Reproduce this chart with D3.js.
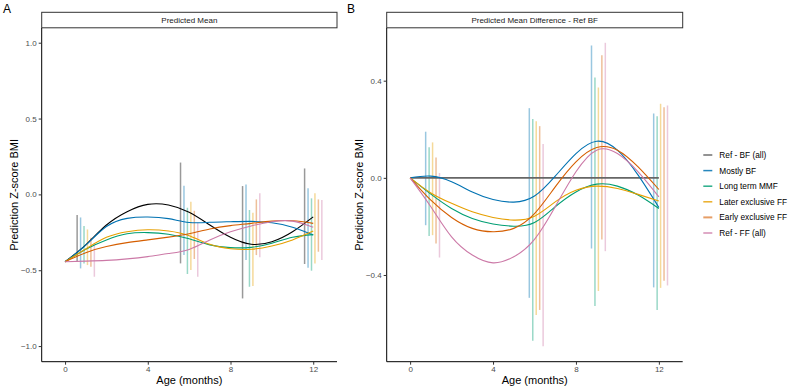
<!DOCTYPE html>
<html>
<head>
<meta charset="utf-8">
<script src="https://cdn.jsdelivr.net/npm/d3@7"></script>
<style>
body { margin: 0; background: white; }
text { font-family: "Liberation Sans", Arial, sans-serif; }
</style>
</head>
<body>
<svg width="789" height="388"></svg>
<script>
// Data
var groups = ["Ref - BF (all)", "Mostly BF", "Long term MMF", "Later exclusive FF", "Early exclusive FF", "Ref - FF (all)"];
var colors = ["#000000", "#0072B2", "#009E73", "#E69F00", "#D55E00", "#CC79A7"];
var ages = [0, 1, 2, 3, 4, 5, 6, 7, 8, 9, 10, 11, 12];
var visits = [1, 6, 9, 12];

// Panel A: predicted mean curves
var meanRefBF   = [-0.444, -0.333, -0.202, -0.114, -0.066, -0.070, -0.118, -0.202, -0.283, -0.329, -0.312, -0.246, -0.148];
var meanMostBF  = [-0.444, -0.335, -0.212, -0.158, -0.149, -0.160, -0.185, -0.184, -0.180, -0.178, -0.187, -0.217, -0.268];
var meanLtMMF   = [-0.444, -0.362, -0.300, -0.260, -0.252, -0.263, -0.293, -0.333, -0.351, -0.349, -0.322, -0.283, -0.265];
var meanLaterFF = [-0.444, -0.360, -0.283, -0.246, -0.233, -0.241, -0.272, -0.329, -0.358, -0.362, -0.340, -0.300, -0.242];
var meanEarlyFF = [-0.444, -0.384, -0.344, -0.318, -0.300, -0.282, -0.260, -0.228, -0.206, -0.191, -0.176, -0.174, -0.191];
var meanRefFF   = [-0.444, -0.440, -0.435, -0.425, -0.410, -0.390, -0.363, -0.300, -0.246, -0.208, -0.180, -0.176, -0.217];
var meanLines = [meanRefBF, meanMostBF, meanLtMMF, meanLaterFF, meanEarlyFF, meanRefFF];

// Panel A: intervals at visits
var meanLo = [
  [-0.444, -0.455, -0.686, -0.459],
  [-0.488, -0.400, -0.433, -0.484],
  [-0.455, -0.525, -0.609, -0.503],
  [-0.466, -0.499, -0.604, -0.455],
  [-0.477, -0.426, -0.400, -0.378],
  [-0.543, -0.543, -0.415, -0.433]
];
var meanHi = [
  [-0.136, 0.210, 0.055, 0.171],
  [-0.152, 0.057, 0.066, 0.040],
  [-0.209, -0.088, -0.103, -0.026],
  [-0.231, -0.048, -0.121, 0.007],
  [-0.286, -0.108, -0.033, -0.033],
  [-0.319, -0.187, 0.007, -0.037]
];

// Panel B: difference from Ref BF
var diffRefBF   = [0, 0, 0, 0, 0, 0, 0, 0, 0, 0, 0, 0, 0];
var diffMostBF  = [0, 0.007, -0.016, -0.058, -0.089, -0.100, -0.075, 0.007, 0.100, 0.151, 0.114, 0.011, -0.122];
var diffLtMMF   = [0, -0.067, -0.126, -0.167, -0.190, -0.199, -0.184, -0.119, -0.058, -0.026, -0.034, -0.071, -0.126];
var diffLaterFF = [0, -0.062, -0.105, -0.140, -0.163, -0.174, -0.158, -0.099, -0.051, -0.034, -0.044, -0.068, -0.095];
var diffEarlyFF = [0, -0.092, -0.163, -0.208, -0.222, -0.208, -0.147, -0.037, 0.066, 0.125, 0.114, 0.045, -0.048];
var diffRefFF   = [0, -0.119, -0.243, -0.318, -0.350, -0.325, -0.253, -0.119, 0.025, 0.114, 0.100, 0.025, -0.078];
var diffLines = [diffRefBF, diffMostBF, diffLtMMF, diffLaterFF, diffEarlyFF, diffRefFF];

var diffLo = [
  null,
  [-0.195, -0.494, -0.291, -0.451],
  [-0.239, -0.671, -0.528, -0.544],
  [-0.236, -0.565, -0.466, -0.453],
  [-0.270, -0.544, -0.254, -0.424],
  [-0.328, -0.693, -0.302, -0.443]
];
var diffHi = [
  null,
  [0.190, 0.287, 0.545, 0.265],
  [0.126, 0.242, 0.413, 0.254],
  [0.146, 0.233, 0.372, 0.305],
  [0.084, 0.213, 0.505, 0.291],
  [0.020, 0.139, 0.556, 0.298]
];

var svg = d3.select("svg");
var plotTop = 28, plotBottom = 361.7;

function drawPanel(opt) {
  var x = d3.scaleLinear().domain([-1.13, 13.15]).range([opt.left, opt.right]);
  var y = d3.scaleLinear().domain(opt.ydomain).range([plotBottom, plotTop]);
  var g = svg.append("g");

  // strip
  g.append("rect")
    .attr("x", opt.left).attr("y", 12.3)
    .attr("width", opt.right - opt.left).attr("height", 15.5)
    .attr("fill", "white").attr("stroke", "#333").attr("stroke-width", 1);
  g.append("text")
    .attr("x", (opt.left + opt.right) / 2).attr("y", 23)
    .attr("text-anchor", "middle").attr("font-size", 8).attr("fill", "#1a1a1a")
    .text(opt.title);

  // panel letter
  svg.append("text").attr("x", opt.letterX).attr("y", 13)
    .attr("font-size", 12).attr("fill", "black").text(opt.letter);

  // error bars
  for (var s = 0; s < groups.length; s++) {
    if (!opt.lo[s]) continue;
    visits.forEach(function(v, j) {
      var xx = x(v + (s - 2.5) / 6);
      g.append("line")
        .attr("x1", xx).attr("x2", xx)
        .attr("y1", y(opt.lo[s][j])).attr("y2", y(opt.hi[s][j]))
        .attr("stroke", colors[s])
        .attr("stroke-opacity", 0.4)
        .attr("stroke-width", 1.5);
    });
  }

  // lines
  var line = d3.line()
    .x(function(d, i) { return x(ages[i]); })
    .y(function(d) { return y(d); })
    .curve(d3.curveNatural);
  for (var s = 0; s < groups.length; s++) {
    g.append("path")
      .attr("d", line(opt.lines[s]))
      .attr("fill", "none")
      .attr("stroke", opt.flatRef && s == 0 ? "#666" : colors[s])
      .attr("stroke-width", opt.flatRef && s == 0 ? 1.6 : 1.1);
  }

  // axes
  var ax = g.append("g")
    .attr("transform", "translate(0," + plotBottom + ")")
    .call(d3.axisBottom(x).tickValues([0, 4, 8, 12]).tickSize(3).tickPadding(2).tickFormat(d3.format("d")));
  var ay = g.append("g")
    .attr("transform", "translate(" + opt.left + ",0)")
    .call(d3.axisLeft(y).tickValues(opt.yticks).tickSize(3).tickPadding(2).tickFormat(d3.format(".1f")));
  [ax, ay].forEach(function(a) {
    a.select(".domain").attr("stroke", "black").attr("stroke-width", 1);
    a.selectAll(".tick line").attr("stroke", "#333");
    a.selectAll(".tick text").attr("fill", "#4d4d4d").attr("font-size", 8)
      .attr("font-family", "Liberation Sans, Arial, sans-serif");
  });
  ax.select(".domain").attr("d", "M" + opt.left + ",0H" + opt.right);
  ay.select(".domain").attr("d", "M0," + plotTop + "V" + plotBottom);

  // titles
  g.append("text")
    .attr("x", (opt.left + opt.right) / 2).attr("y", 384)
    .attr("text-anchor", "middle").attr("font-size", 11).attr("fill", "black")
    .text("Age (months)");
  g.append("text")
    .attr("transform", "translate(" + opt.ytitleX + "," + ((plotTop + plotBottom) / 2) + ") rotate(-90)")
    .attr("text-anchor", "middle").attr("font-size", 11).attr("fill", "black")
    .text("Prediction Z-score BMI");
}

drawPanel({
  left: 41.7, right: 337, ydomain: [-1.103, 1.097], yticks: [-1.0, -0.5, 0.0, 0.5, 1.0],
  title: "Predicted Mean", letter: "A", letterX: 3, ytitleX: 18,
  lines: meanLines, lo: meanLo, hi: meanHi, flatRef: false
});
drawPanel({
  left: 386.7, right: 682.7, ydomain: [-0.757, 0.617], yticks: [-0.4, 0.0, 0.4],
  title: "Predicted Mean Difference - Ref BF", letter: "B", letterX: 347, ytitleX: 363,
  lines: diffLines, lo: diffLo, hi: diffHi, flatRef: true
});

// legend
var legend = svg.append("g");
groups.forEach(function(name, i) {
  var yy = 155 + i * 15.6;
  legend.append("line")
    .attr("x1", 703.3).attr("x2", 712.3).attr("y1", yy).attr("y2", yy)
    .attr("stroke", i == 0 ? "#555" : colors[i])
    .attr("stroke-opacity", i == 4 ? 0.6 : 0.85)
    .attr("stroke-width", i == 4 ? 2 : 1.5);
  legend.append("text")
    .attr("x", 719.3).attr("y", yy + 3)
    .attr("font-size", 8.3).attr("fill", "black")
    .text(name);
});
</script>
</body>
</html>
